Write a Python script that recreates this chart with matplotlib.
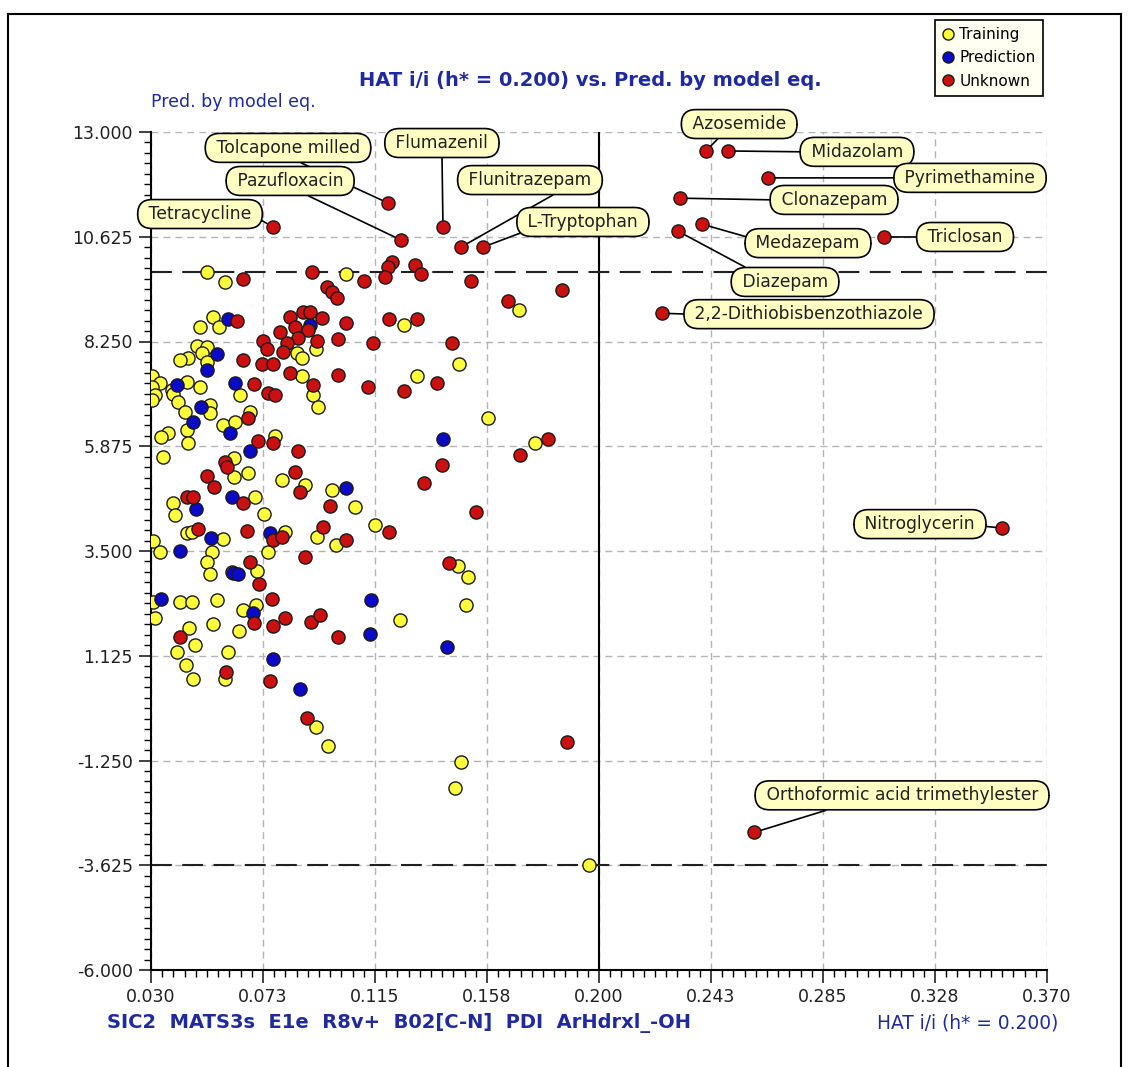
import matplotlib
matplotlib.use("Agg")
import matplotlib.pyplot as plt
from matplotlib.ticker import FixedLocator, AutoMinorLocator
from matplotlib.lines import Line2D

plt.rcParams['font.family'] = ['DejaVu Sans']

# ---- data -------------------------------------------------------------
train_x = [0.0511, 0.0581, 0.0536, 0.0486, 0.0558, 0.0473, 0.0511, 0.0492, 0.0442, 0.0410,
           0.0511, 0.0303, 0.0334, 0.0303, 0.0435, 0.0486, 0.0379, 0.0315, 0.0303, 0.0385,
           0.0404, 0.0429, 0.0524, 0.0524, 0.0638, 0.0676, 0.0572, 0.0619, 0.0363, 0.0337,
           0.0435, 0.0442, 0.0771, 0.0347, 0.0616, 0.0616, 0.0669, 0.0796, 0.0884, 0.0986,
           0.0853, 0.0872, 0.0872, 0.0925, 0.0916, 0.0935, 0.0385, 0.0695, 0.0391, 0.0435,
           0.0454, 0.0306, 0.0334, 0.0572, 0.0530, 0.0511, 0.0524, 0.0730, 0.0745, 0.0809,
           0.0929, 0.1001, 0.0701, 0.0606, 0.0309, 0.0315, 0.0410, 0.0454, 0.0549, 0.0648,
           0.0698, 0.0445, 0.0536, 0.0634, 0.0467, 0.0400, 0.0591, 0.0433, 0.0461, 0.0581,
           0.0925, 0.0971, 0.1039, 0.1261, 0.1470, 0.1308, 0.1580, 0.1757, 0.1698, 0.1074,
           0.1150, 0.1465, 0.1503, 0.1495, 0.1476, 0.1454, 0.1962, 0.1245]
train_y = [9.83, 9.59, 8.81, 8.58, 8.58, 8.15, 8.13, 7.98, 7.87, 7.83,
           7.79, 7.46, 7.30, 7.22, 7.34, 7.22, 7.15, 7.03, 6.92, 7.07,
           6.88, 6.66, 6.81, 6.62, 7.03, 6.66, 6.35, 6.43, 6.18, 6.09,
           6.24, 5.96, 6.10, 5.63, 5.60, 5.18, 5.27, 5.12, 4.99, 4.89,
           7.98, 7.87, 7.46, 8.08, 7.03, 6.77, 4.58, 4.73, 4.31, 3.90,
           3.93, 3.72, 3.48, 3.77, 3.48, 3.25, 2.97, 4.33, 3.47, 3.93,
           3.81, 3.63, 3.05, 3.03, 2.34, 1.97, 2.34, 2.34, 2.38, 2.17,
           2.27, 1.76, 1.84, 1.68, 1.38, 1.21, 1.21, 0.92, 0.59, 0.59,
           -0.49, -0.91, 9.78, 8.62, 7.75, 7.46, 6.51, 5.95, 8.96, 4.50,
           4.08, 3.15, 2.90, 2.27, -1.29, -1.88, -3.62, 1.93]

pred_x = [0.0593, 0.0552, 0.0511, 0.0400, 0.0619, 0.0489, 0.0461, 0.0600, 0.0676, 0.0903,
          0.0606, 0.0471, 0.0528, 0.0410, 0.0612, 0.0631, 0.0337, 0.0686, 0.0752, 0.0764,
          0.0865, 0.1407, 0.1039, 0.1135, 0.1131, 0.1423]
pred_y = [8.77, 7.96, 7.60, 7.26, 7.30, 6.77, 6.43, 6.18, 5.76, 8.62,
          4.72, 4.45, 3.80, 3.50, 3.00, 2.97, 2.42, 2.10, 3.90, 1.04,
          0.38, 6.05, 4.92, 2.38, 1.61, 1.32]

unk_x = [0.0648, 0.0625, 0.0910, 0.0967, 0.0986, 0.1005, 0.0828, 0.0878, 0.0903, 0.0948,
         0.0790, 0.0846, 0.0897, 0.0859, 0.0929, 0.0726, 0.0739, 0.0815, 0.0802, 0.0650,
         0.0720, 0.0764, 0.0828, 0.1011, 0.0692, 0.0745, 0.0771, 0.0914, 0.0669, 0.0707,
         0.0764, 0.0859, 0.0581, 0.0590, 0.0511, 0.0539, 0.0846, 0.0865, 0.0435, 0.0461,
         0.1109, 0.1213, 0.1199, 0.1188, 0.1302, 0.1324, 0.1513, 0.1656, 0.1039, 0.1204,
         0.1308, 0.1011, 0.1144, 0.1441, 0.1122, 0.1261, 0.1387, 0.1403, 0.1337, 0.1532,
         0.1700, 0.1808, 0.1204, 0.1039, 0.1859, 0.0480, 0.0663, 0.0762, 0.0796, 0.0650,
         0.0979, 0.0952, 0.0884, 0.0676, 0.0710, 0.0760, 0.0809, 0.0764, 0.0691, 0.0906,
         0.0941, 0.1011, 0.0410, 0.0585, 0.0752, 0.0891, 0.1431, 0.1879]
unk_y = [9.66, 8.71, 9.83, 9.49, 9.38, 9.23, 8.81, 8.92, 8.92, 8.79,
         8.47, 8.58, 8.51, 8.34, 8.27, 8.27, 8.09, 8.21, 8.02, 7.84,
         7.75, 7.75, 7.54, 7.49, 7.28, 7.09, 7.03, 7.26, 6.51, 6.00,
         5.96, 5.76, 5.52, 5.41, 5.20, 4.94, 5.29, 4.84, 4.73, 4.73,
         9.63, 10.06, 9.94, 9.72, 9.98, 9.79, 9.62, 9.17, 8.67, 8.75,
         8.75, 8.30, 8.21, 8.21, 7.21, 7.12, 7.30, 5.45, 5.04, 4.39,
         5.67, 6.05, 3.93, 3.76, 9.42, 4.01, 3.96, 3.76, 3.81, 4.58,
         4.52, 4.05, 3.37, 3.25, 2.76, 2.42, 1.97, 1.79, 1.87, 1.88,
         2.04, 1.55, 1.55, 0.76, 0.55, -0.28, 3.22, -0.82]

# named compounds (all in the Unknown set)
named = ["Tetracycline", "Tolcapone milled", "Pazufloxacin", "Flumazenil",
         "Flunitrazepam", "L-Tryptophan", "Azosemide", "Midazolam",
         "Pyrimethamine", "Clonazepam", "Medazepam", "Diazepam", "Triclosan",
         "2,2-Dithiobisbenzothiazole", "Nitroglycerin",
         "Orthoformic acid trimethylester"]
named_x = [0.0763, 0.1199, 0.1249, 0.1408, 0.1476, 0.1560, 0.2406, 0.2490,
           0.2642, 0.2308, 0.2391, 0.2300, 0.3082, 0.2239, 0.3530, 0.2589]
named_y = [10.845, 11.39, 10.55, 10.845, 10.39, 10.39, 12.57, 12.57,
           11.96, 11.50, 10.91, 10.75, 10.62, 8.89, 4.02, -2.88]

x_ticks = [0.030, 0.0725, 0.115, 0.1575, 0.200, 0.2425, 0.285, 0.3275, 0.370]
x_ticklabels = ["0.030", "0.073", "0.115", "0.158", "0.200", "0.243", "0.285", "0.328", "0.370"]
y_ticks = [13.000, 10.625, 8.250, 5.875, 3.500, 1.125, -1.250, -3.625, -6.000]
y_ticklabels = ["13.000", "10.625", "8.250", "5.875", "3.500", "1.125", "-1.250", "-3.625", "-6.000"]

h_star = 0.200
upper_limit = 9.83
lower_limit = -3.625

# ---- layout of the name tags: text box centre (data units) and the
# point on the box where the leader line starts (relative box coords)
tag_pos = {
    "Tetracycline": ((0.0486, 11.14), (1.0, 0.3)),
    "Tolcapone milled": ((0.0820, 12.64), (0.5, 0.0)),
    "Pazufloxacin": ((0.0828, 11.89), (0.55, 0.0)),
    "Flumazenil": ((0.1404, 12.75), (0.5, 0.0)),
    "Flunitrazepam": ((0.1738, 11.91), (0.75, 0.0)),
    "L-Tryptophan": ((0.1939, 10.96), (0.05, 0.05)),
    "Azosemide": ((0.2532, 13.18), (0.35, 0.0)),
    "Midazolam": ((0.2979, 12.55), (0.0, 0.5)),
    "Pyrimethamine": ((0.3408, 11.96), (0.0, 0.5)),
    "Clonazepam": ((0.2892, 11.46), (0.0, 0.5)),
    "Medazepam": ((0.2793, 10.48), (0.02, 0.75)),
    "Diazepam": ((0.2706, 9.60), (0.2, 1.0)),
    "Triclosan": ((0.3389, 10.62), (0.0, 0.5)),
    "2,2-Dithiobisbenzothiazole": ((0.2797, 8.87), (0.0, 0.5)),
    "Nitroglycerin": ((0.3218, 4.11), (1.0, 0.4)),
    "Orthoformic acid trimethylester": ((0.3150, -2.04), (0.3, 0.0)),
}

BLUE_TXT = "#1f2a9e"
C_TRAIN = "#ffff3c"
C_PRED = "#0a0ac8"
C_UNK = "#cc1010"

W, H = 1128, 1067
fig = plt.figure(figsize=(W / 100, H / 100), dpi=100)
fig.patch.set_facecolor("white")

ax = fig.add_axes([151 / W, 1 - 970 / H, 896 / W, 838 / H])
ax.set_xlim(0.03, 0.37)
ax.set_ylim(-6.0, 13.0)

for s in ("top", "right"):
    ax.spines[s].set_visible(False)
for s in ("left", "bottom"):
    ax.spines[s].set_linewidth(1.5)

ax.xaxis.set_major_locator(FixedLocator(x_ticks))
ax.set_xticklabels(x_ticklabels)
ax.yaxis.set_major_locator(FixedLocator(y_ticks))
ax.set_yticklabels(y_ticklabels)
ax.xaxis.set_minor_locator(AutoMinorLocator(10))
ax.yaxis.set_minor_locator(AutoMinorLocator(10))
ax.tick_params(which="major", length=9, width=1.2, labelsize=12.5, pad=4, colors="#202020")
ax.tick_params(which="minor", length=5, width=1.0)

ax.grid(True, which="major", color="#b4b4b4", lw=1.0, dashes=(5, 3.6))
ax.set_axisbelow(True)

# reference lines: leverage threshold and residual limits
ax.axvline(h_star, color="black", lw=1.5, zorder=2)
for yl in (upper_limit, lower_limit):
    ax.axhline(yl, color="#202020", lw=1.5, dashes=(10, 5), zorder=2)

mk = dict(s=90, edgecolors="#1a1a1a", linewidths=1.0, zorder=3)
ax.scatter(train_x, train_y, c=C_TRAIN, **mk)
ax.scatter(pred_x, pred_y, c=C_PRED, **mk)
ax.scatter(unk_x, unk_y, c=C_UNK, **mk)
ax.scatter(named_x, named_y, c=C_UNK, **mk)

for name, px, py in zip(named, named_x, named_y):
    (tx, ty), rel = tag_pos[name]
    ax.annotate(" " + name + " ", xy=(px, py), xytext=(tx, ty), textcoords="data",
                ha="center", va="center", fontsize=12.3, color="#202020",
                bbox=dict(boxstyle="round,pad=0.32,rounding_size=0.85",
                          fc="#ffffc4", ec="black", lw=1.2),
                arrowprops=dict(arrowstyle="-", color="black", lw=1.2,
                                shrinkA=0, shrinkB=5, relpos=rel),
                annotation_clip=False, zorder=4)

# titles
fig.text(590 / W, 1 - 81 / H, "HAT i/i (h* = 0.200) vs. Pred. by model eq.",
         ha="center", va="center", fontsize=14, fontweight="bold", color=BLUE_TXT)
fig.text(151 / W, 1 - 102 / H, "Pred. by model eq.", ha="left", va="center",
         fontsize=12.5, color=BLUE_TXT)
fig.text(107 / W, 1 - 1023 / H, "SIC2  MATS3s  E1e  R8v+  B02[C-N]  PDI  ArHdrxl_-OH",
         ha="left", va="center", fontsize=14, fontweight="bold", color=BLUE_TXT)
fig.text(1058 / W, 1 - 1023 / H, "HAT i/i (h* = 0.200)", ha="right", va="center",
         fontsize=13.4, color=BLUE_TXT)

# legend
handles = [Line2D([], [], ls="none", marker="o", ms=8, mfc=c, mec="#1a1a1a", mew=1.0)
           for c in (C_TRAIN, C_PRED, C_UNK)]
leg = fig.legend(handles, ["Training", "Prediction", "Unknown"],
                 loc="upper left", bbox_to_anchor=(935 / W, 1 - 20 / H),
                 fontsize=11, frameon=True, fancybox=False, edgecolor="black",
                 facecolor="#fffff2", framealpha=1, borderpad=0.45,
                 handlelength=0.8, handletextpad=0.35, labelspacing=0.55,
                 borderaxespad=0)
leg.get_frame().set_linewidth(1.2)

# outer frame
frame_kw = dict(color="black", lw=1.5, transform=fig.transFigure)
fig.add_artist(Line2D([8 / W, 8 / W], [0, 1 - 14 / H], **frame_kw))
fig.add_artist(Line2D([8 / W, 1121 / W], [1 - 14 / H, 1 - 14 / H], **frame_kw))
fig.add_artist(Line2D([1121 / W, 1121 / W], [0, 1 - 14 / H], **frame_kw))

fig.savefig("out.png", dpi=100)
